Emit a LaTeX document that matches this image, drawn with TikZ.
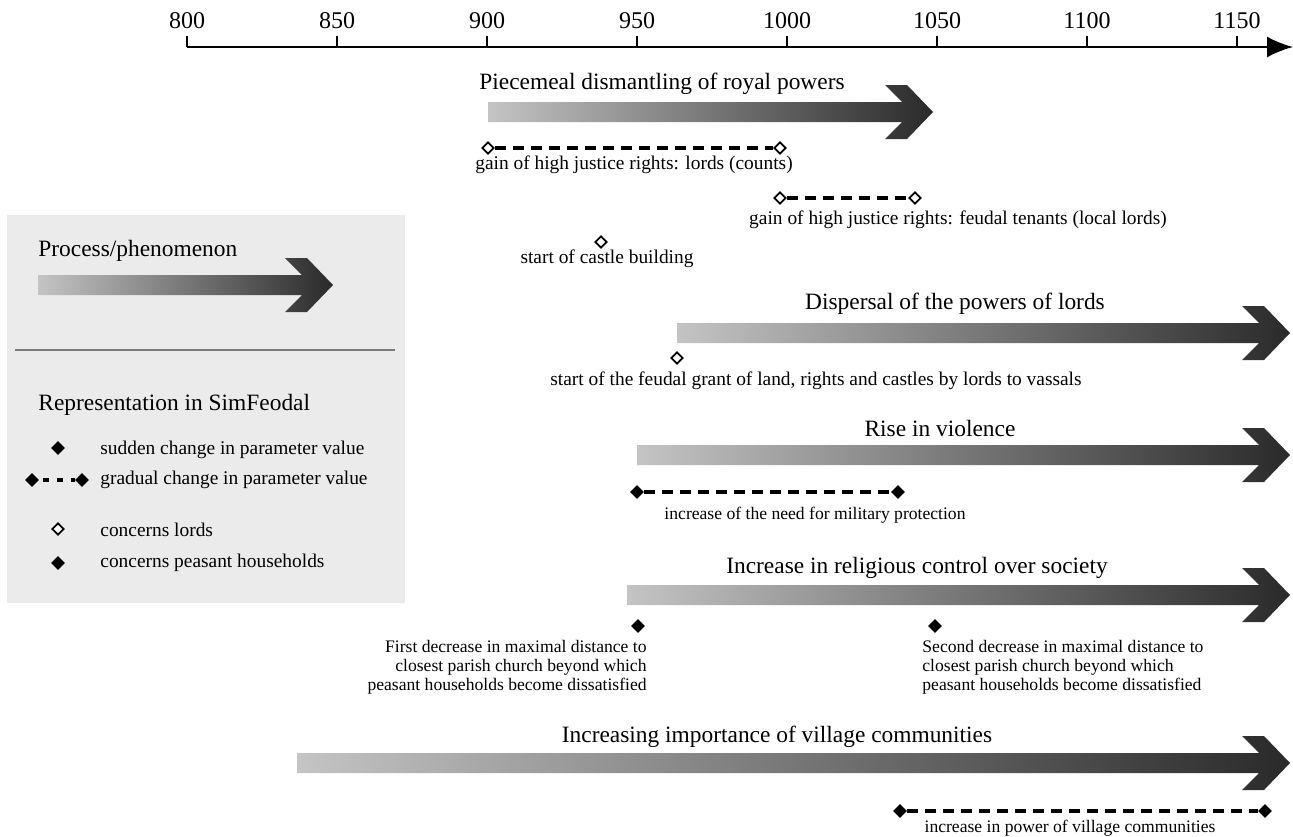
\documentclass[tikz,border=0pt]{standalone}
\usepackage{fontspec}
\setmainfont{Liberation Serif}
\usetikzlibrary{arrows.meta,shapes.geometric}

\definecolor{legendgray}{HTML}{EBEBEB}
\definecolor{rulegray}{HTML}{7A7A7A}
\definecolor{arrowlight}{HTML}{C4C4C4}
\definecolor{arrowdark}{HTML}{2A2A2A}

% shaded process arrow: start x, tip x, centre y
\newcommand{\procarrow}[3]{%
  \shade[left color=arrowlight, right color=arrowdark]
    (#1,#3-10) -- (#2-31,#3-10) -- (#2-48,#3-27) -- (#2-26,#3-27)
    -- (#2,#3) -- (#2-26,#3+27) -- (#2-48,#3+27) -- (#2-31,#3+10)
    -- (#1,#3+10) -- cycle;}

\begin{document}
\begin{tikzpicture}[x=0.5pt,y=-0.5pt,
    every node/.append style={inner sep=0pt},
    lordmark/.style={diamond,draw,fill=white,line width=0.9pt,minimum size=6pt},
    peasantmark/.style={diamond,draw,fill=black,line width=0.9pt,minimum size=6pt},
    gradual/.style={line width=1.9pt,dash pattern=on 5.5pt off 3.5pt},
    title/.style={font=\fontsize{11.7}{13.5}\selectfont},
    label/.style={font=\fontsize{9.7}{11.5}\selectfont},
    small/.style={font=\fontsize{8.8}{9.4}\selectfont,align=#1},
    small/.default=center]
    \useasboundingbox (0,0) rectangle (1293,836);

    % time axis
    \coordinate (axstart) at (187,47);
    \coordinate (axend) at (1293,47);
    \draw[line width=1pt,-{Latex[length=13pt,width=10.5pt]}] (axstart) -- (axend);
    \foreach \yr in {800,850,...,1150} {
        \draw[line width=1pt] ({187+3*(\yr-800)},47) -- ++(0,-11);
        \node[font=\fontsize{12}{14}\selectfont] (t\yr) at ({187+3*(\yr-800)},21) {\yr};
    }

    % legend
    \fill[legendgray] (7,215) rectangle (405,603);
    \draw[rulegray,line width=0.8pt] (15,350) -- (395,350);
    \node[title,anchor=west] (lproc) at (38,251) {Process/phenomenon};
    \procarrow{38}{333}{285}
    \node[title,anchor=west] (lrep) at (38,405) {Representation in SimFeodal};
    \node[peasantmark] (lsud) at (58,448) {};
    \node[label,anchor=west] (lsudt) at (100,450) {sudden change in parameter value};
    \node[peasantmark] (lgra1) at (32,480) {};
    \node[peasantmark] (lgra2) at (82,480) {};
    \draw[gradual,dash pattern=on 3pt off 4pt,dash phase=-2pt] (lgra1) -- (lgra2);
    \node[label,anchor=west] (lgrat) at (100,480) {gradual change in parameter value};
    \node[lordmark] (llord) at (58,529) {};
    \node[label,anchor=west] (llordt) at (100,530) {concerns lords};
    \node[peasantmark] (lpeas) at (58,563) {};
    \node[label,anchor=west] (lpeast) at (100,563) {concerns peasant households};

    % royal powers
    \node[title] (royal) at (662,84) {Piecemeal dismantling of royal powers};
    \procarrow{488}{933}{112}
    \node[lordmark] (count1) at (488,148) {};
    \node[lordmark] (count2) at (780,148) {};
    \draw[gradual] (count1) -- (count2);
    \node[label] (countt) at (634,165) {gain of high justice rights: lords (counts)};
    \node[lordmark] (tenant1) at (780,198) {};
    \node[lordmark] (tenant2) at (915,198) {};
    \draw[gradual] (tenant1) -- (tenant2);
    \node[label] (tenantt) at (958,220) {gain of high justice rights: feudal tenants (local lords)};
    \node[lordmark] (castle) at (601,242) {};
    \node[label] (castlet) at (607,259) {start of castle building};

    % powers of lords
    \node[title] (dispersal) at (955,304) {Dispersal of the powers of lords};
    \procarrow{677}{1290}{333}
    \node[lordmark] (grant) at (677,358) {};
    \node[label] (grantt) at (816,381) {start of the feudal grant of land, rights and castles by lords to vassals};

    % violence
    \node[title] (violence) at (940,428) {Rise in violence};
    \procarrow{637}{1290}{455}
    \node[peasantmark] (mil1) at (637,492) {};
    \node[peasantmark] (mil2) at (898,492) {};
    \draw[gradual] (mil1) -- (mil2);
    \node[small] (milt) at (815,515) {increase of the need for military protection};

    % religious control
    \node[title] (religion) at (917,568) {Increase in religious control over society};
    \procarrow{627}{1290}{595}
    \node[peasantmark] (church1) at (638,626) {};
    \node[peasantmark] (church2) at (935,626) {};
    \node[small=right,anchor=north east] (church1t) at (647,640)
        {First decrease in maximal distance to\\closest parish church beyond which\\peasant households become dissatisfied};
    \node[small=left,anchor=north west] (church2t) at (922,640)
        {Second decrease in maximal distance to\\closest parish church beyond which\\peasant households become dissatisfied};

    % village communities
    \node[title] (village) at (777,737) {Increasing importance of village communities};
    \procarrow{297}{1290}{763}
    \node[peasantmark] (vil1) at (900,811) {};
    \node[peasantmark] (vil2) at (1265,811) {};
    \draw[gradual] (vil1) -- (vil2);
    \node[small] (vilt) at (1070,828) {increase in power of village communities};
\end{tikzpicture}
\end{document}
